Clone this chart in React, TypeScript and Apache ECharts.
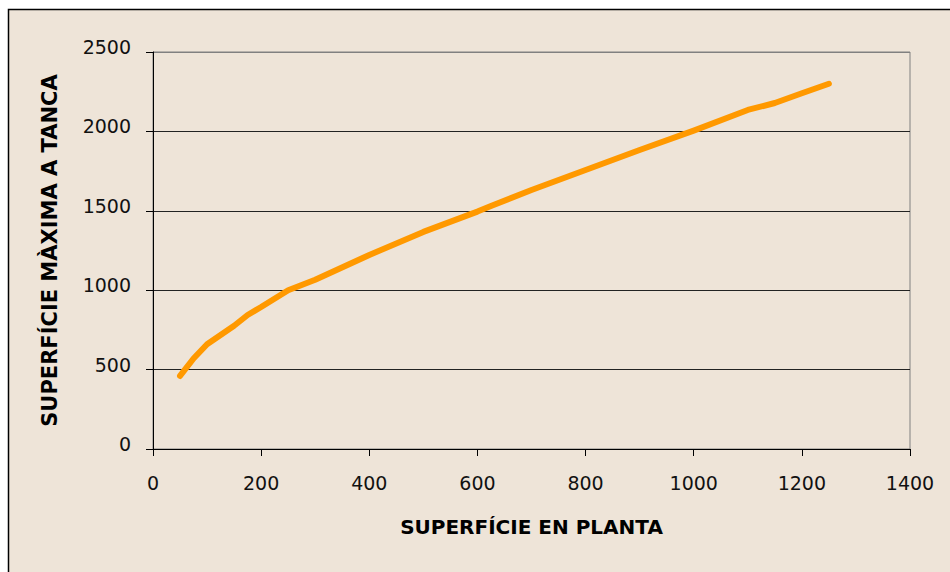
import React, { useEffect, useRef } from "react";
import * as echarts from "echarts";

const xValues = [50, 75, 100, 150, 175, 200, 250, 300, 400, 500, 600, 625, 700, 800, 900, 1000, 1100, 1150, 1200, 1250];
const yValues = [460, 570, 660, 776, 844, 894, 1000, 1066, 1222, 1367, 1495, 1530, 1631, 1757, 1883, 2005, 2135, 2179, 2240, 2300];
const xTitle = "SUPERFÍCIE EN PLANTA";
const yTitle = "SUPERFÍCIE MÀXIMA A TANCA";

export default function App() {
  const ref = useRef<HTMLDivElement>(null);
  useEffect(() => {
    if (!ref.current) return;
    const chart = echarts.init(ref.current, null, { renderer: "svg" });
    const data = xValues.map((x, i) => [x, yValues[i]]);
    chart.setOption({
      animation: false,
      backgroundColor: "#ffffff",
      graphic: [
        {
          type: "rect",
          z: -10,
          silent: true,
          shape: { x: 8.5, y: 9.5, width: 960, height: 580 },
          style: { fill: "#EEE4D8", stroke: "#000000", lineWidth: 1.5 },
        },
      ],
      grid: {
        left: 153,
        right: 40,
        top: 52,
        bottom: 123,
        show: true,
        borderColor: "#808080",
        borderWidth: 1,
        backgroundColor: "transparent",
      },
      xAxis: {
        type: "value",
        min: 0,
        max: 1400,
        interval: 200,
        name: xTitle,
        nameLocation: "middle",
        nameGap: 68,
        nameTextStyle: { fontFamily: "DejaVu Sans", fontWeight: "bold", fontSize: 20, color: "#000" },
        axisLine: { show: true, lineStyle: { color: "#000", width: 1 } },
        axisTick: { show: true, inside: false, length: 7, lineStyle: { color: "#000" } },
        axisLabel: { margin: 24, fontFamily: "DejaVu Sans", fontSize: 19, color: "#111", formatter: (v: number) => String(v) },
        splitLine: { show: false },
      },
      yAxis: {
        type: "value",
        min: 0,
        max: 2500,
        interval: 500,
        name: yTitle,
        nameLocation: "middle",
        nameGap: 93,
        nameRotate: 90,
        nameTextStyle: { fontFamily: "DejaVu Sans", fontWeight: "bold", fontSize: 21, color: "#000" },
        axisLine: { show: true, lineStyle: { color: "#000", width: 1 } },
        axisTick: { show: true, inside: false, length: 7, lineStyle: { color: "#000" } },
        axisLabel: {
          margin: 22,
          fontFamily: "DejaVu Sans",
          fontSize: 19,
          color: "#111",
          verticalAlign: "bottom",
          lineHeight: 10,
          formatter: (v: number) => String(v),
        },
        splitLine: { show: true, lineStyle: { color: ["#000", "#222", "#222", "#222", "#222", "#808080"], width: 1 } },
      },
      series: [
        {
          type: "line",
          data,
          showSymbol: false,
          symbol: "none",
          smooth: false,
          lineStyle: { color: "#FF9900", width: 6, cap: "round", join: "round" },
        },
      ],
    });
    return () => chart.dispose();
  }, []);
  return <div ref={ref} style={{ position: "absolute", left: 0, top: 0, width: 950, height: 572 }} />;
}
